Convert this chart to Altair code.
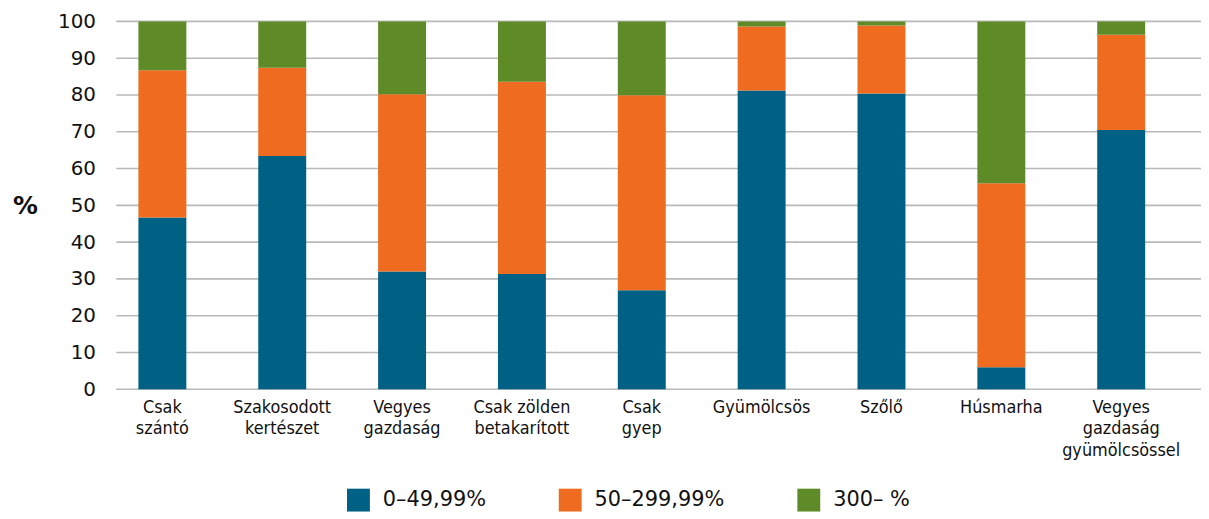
import altair as alt
import pandas as pd

categories = ["Csak|szántó", "Szakosodott|kertészet", "Vegyes|gazdaság", "Csak zölden|betakarított",
              "Csak|gyep", "Gyümölcsös", "Szőlő", "Húsmarha", "Vegyes|gazdaság|gyümölcsössel"]
series = ["0–49,99%", "50–299,99%", "300– %"]
s_low = [46.7, 63.4, 32.0, 31.3, 26.9, 81.2, 80.4, 6.0, 70.5]
s_mid = [40.0, 24.0, 48.2, 52.3, 53.0, 17.4, 18.5, 50.0, 25.9]
s_high = [13.3, 12.6, 19.8, 16.4, 20.1, 1.4, 1.1, 44.0, 3.6]
colors = ["#006184", "#EE6B20", "#5E8A27"]
y_ticks = [0, 10, 20, 30, 40, 50, 60, 70, 80, 90, 100]

rows = []
for i, c in enumerate(categories):
    for k, vals in enumerate([s_low, s_mid, s_high]):
        rows.append({"cat": c, "series": series[k], "k": k, "v": vals[i]})
df = pd.DataFrame(rows)
grid_df = pd.DataFrame({"t": y_ticks})

W, H = 1085, 370
yscale = alt.Scale(domain=[0, 100], nice=False)
y_axis = alt.Axis(values=y_ticks, title="%", titleAngle=0, titleX=-78, titleY=185,
                  titleAlign="center", titleBaseline="middle", titleFont="DejaVu Sans",
                  titleFontSize=25, titleFontWeight="bold", titleColor="#111111",
                  labelFont="DejaVu Sans", labelFontSize=20, labelColor="#111111",
                  labelPadding=7, ticks=False, domain=False, grid=False)
cond_font = "DejaVu Sans Condensed, Roboto Condensed, Liberation Sans Narrow, Roboto, sans-serif"

grid = alt.Chart(grid_df).mark_rule(color="#b9b9b9", strokeWidth=1.6).encode(
    y=alt.Y("t:Q", scale=yscale, axis=y_axis),
    x=alt.value(14), x2=alt.value(1105),
)

bars = alt.Chart(df).mark_bar(strokeWidth=0).encode(
    x=alt.X("cat:N", sort=categories,
            scale=alt.Scale(domain=categories, paddingInner=0.6, paddingOuter=0.3),
            axis=alt.Axis(title=None, labelExpr="split(datum.label, '|')", labelAngle=0,
                          labelFont=cond_font, labelFontSize=18, labelColor="#111111",
                          labelLineHeight=22, labelBaseline="top", labelPadding=9,
                          ticks=False, domain=False, labelAlign="center")),
    y=alt.Y("v:Q", stack="zero", scale=yscale, axis=y_axis),
    color=alt.Color("series:N", sort=series,
                    scale=alt.Scale(domain=series, range=colors),
                    legend=alt.Legend(title=None, orient="none", direction="horizontal",
                                      legendX=246, legendY=470, symbolType="square",
                                      symbolSize=529, symbolStrokeWidth=0, symbolOpacity=1,
                                      labelFont="DejaVu Sans", labelFontSize=21, labelColor="#111111",
                                      labelOffset=13, columnPadding=73, labelLimit=300)),
    order=alt.Order("k:Q", sort="ascending"),
)

chart = alt.layer(grid, bars).properties(
    width=W, height=H,
    autosize=alt.AutoSizeParams(type="none"),
    padding={"left": 95, "top": 12, "right": 20, "bottom": 128},
).configure_view(stroke=None)

chart.save("out.html", embed_options={"renderer": "svg", "actions": False})
